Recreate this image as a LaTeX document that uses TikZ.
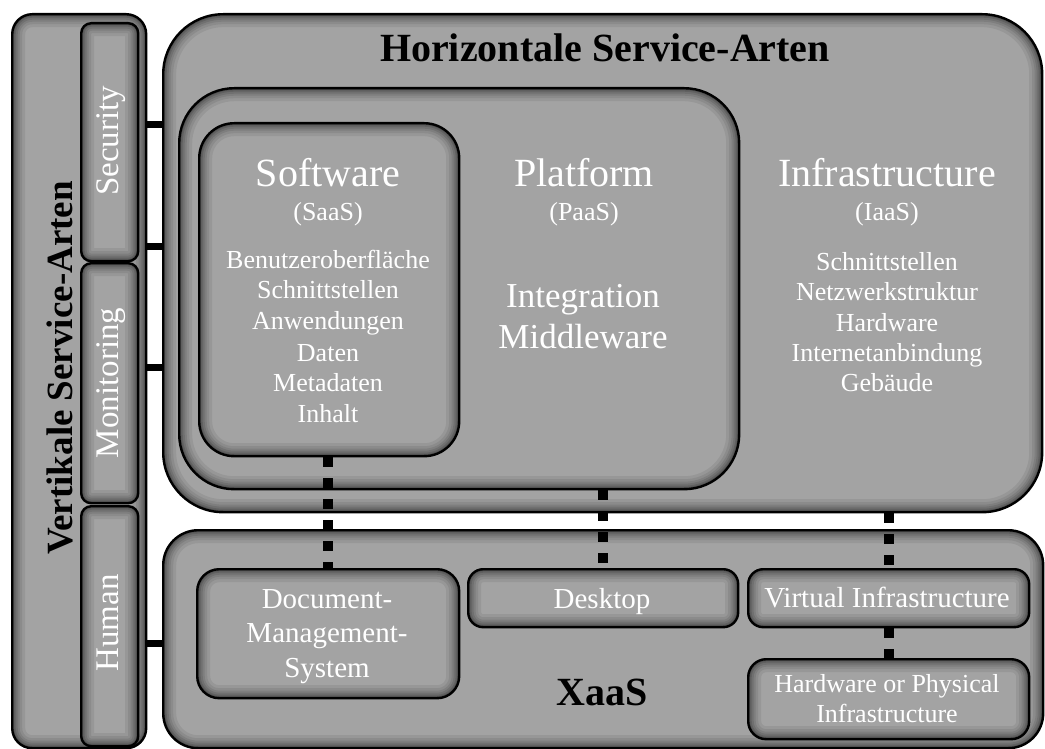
\documentclass[tikz,border=0pt]{standalone}
\usepackage{fontspec}
\setmainfont{Liberation Serif}
\definecolor{boxgray}{RGB}{163,163,163}
\tikzset{
  gbox/.style={draw=black, line width=2.4pt, fill=boxgray, rounded corners=#1,
    inner sep=0pt, anchor=north west,
    path picture={\foreach \w/\o in {26/0.07,20/0.08,15/0.09,11/0.11,7/0.13,4/0.16}{
        \draw[line width=\w pt, draw=black, draw opacity=\o, rounded corners=#1]
          (path picture bounding box.south west) rectangle (path picture bounding box.north east);}}},
  bar/.style={draw=black, line width=7pt},
  dots/.style={draw=black, line width=10pt, dash pattern=on 10pt off 11pt},
  wtxt/.style={text=white, inner sep=0pt, anchor=base, font=\fontsize{#1}{#1}\selectfont},
  btxt/.style={text=black, inner sep=0pt, anchor=base, font=\bfseries\fontsize{#1}{#1}\selectfont},
}
\begin{document}
\begin{tikzpicture}[x=1pt,y=-1pt]
\useasboundingbox[fill=white] (0,0) rectangle (1045,749);

% vertical column
\node[gbox=20, minimum width=134pt, minimum height=734pt] (vert) at (11,13) {};
\node[gbox=10, minimum width=57pt, minimum height=238pt] (sec) at (80,22) {};
\node[gbox=10, minimum width=57pt, minimum height=240pt] (mon) at (80,262) {};
\node[gbox=10, minimum width=57pt, minimum height=240pt] (hum) at (80,505) {};

% horizontal boxes
\node[gbox=60, minimum width=879pt, minimum height=498pt] (horiz) at (162,13) {};
\node[gbox=55, minimum width=560pt, minimum height=401pt] (plat) at (178,87) {};
\node[gbox=35, minimum width=260pt, minimum height=333pt] (soft) at (198,122) {};

% XaaS
\node[gbox=35, minimum width=880pt, minimum height=218pt] (xaas) at (162,529) {};
\node[gbox=22, minimum width=262pt, minimum height=129pt] (doc) at (196,568) {};
\node[gbox=15, minimum width=270pt, minimum height=58pt] (desk) at (467,568) {};
\node[gbox=15, minimum width=281pt, minimum height=58pt] (vi) at (747,568) {};
\node[gbox=18, minimum width=281pt, minimum height=80pt] (hw) at (747,658) {};

% bars
\draw[bar] (vert.east |- {(0,125)}) -- (horiz.west |- {(0,125)});
\draw[bar] (vert.east |- {(0,246)}) -- (horiz.west |- {(0,246)});
\draw[bar] (vert.east |- {(0,367)}) -- (horiz.west |- {(0,367)});
\draw[bar] (vert.east |- {(0,643)}) -- (xaas.west |- {(0,643)});

% dotted connectors
\draw[dots] (doc.north |- soft.south) -- (doc.north);
\draw[dots] (desk.north |- plat.south) -- (desk.north);
\draw[dots] (vi.north |- horiz.south) -- (vi.north);
\draw[dots] (vi.south) -- (hw.north);

% titles
\node[btxt=40] (htitle) at (605,62) {Horizontale Service-Arten};
\node[btxt=37, rotate=90] (vtitle) at (72,368) {Vertikale Service-Arten};
\node[btxt=40] (txaas) at (602,705) {XaaS};

% vertical labels
\node[wtxt=33, rotate=90] (tsec) at (118,141) {Security};
\node[wtxt=33, rotate=90] (tmon) at (118,383) {Monitoring};
\node[wtxt=33, rotate=90] (thum) at (118,623) {Human};

% software
\node[wtxt=40] (tsoft) at (328,187) {Software};
\node[wtxt=26] (tsaas) at (328,220) {(SaaS)};
\node[wtxt=26] (lsoft) at (328,268) {\fontsize{26}{31}\selectfont\begin{tabular}[t]{@{}c@{}}Benutzeroberfläche\\Schnittstellen\\Anwendungen\\Daten\\Metadaten\\Inhalt\end{tabular}};

% platform
\node[wtxt=40] (tplat) at (584,187) {Platform};
\node[wtxt=26] (tpaas) at (584,220) {(PaaS)};
\node[wtxt=35] (lplat) at (583,307) {\fontsize{35}{41}\selectfont\begin{tabular}[t]{@{}c@{}}Integration\\Middleware\end{tabular}};

% infrastructure
\node[wtxt=40] (tinf) at (887,187) {Infrastructure};
\node[wtxt=26] (tiaas) at (887,221) {(IaaS)};
\node[wtxt=26] (linf) at (887,270) {\fontsize{26}{30.5}\selectfont\begin{tabular}[t]{@{}c@{}}Schnittstellen\\Netzwerkstruktur\\Hardware\\Internetanbindung\\Gebäude\end{tabular}};

% XaaS contents
\node[wtxt=29] (tdoc) at (327,608) {\fontsize{29}{34.5}\selectfont\begin{tabular}[t]{@{}c@{}}Document-\\Management-\\System\end{tabular}};
\node[wtxt=29] (tdesk) at (602,608) {Desktop};
\node[wtxt=29] (tvi) at (887,607) {Virtual Infrastructure};
\node[wtxt=26] (thw) at (887,692) {\fontsize{26}{30}\selectfont\begin{tabular}[t]{@{}c@{}}Hardware or Physical\\Infrastructure\end{tabular}};
\end{tikzpicture}
\end{document}
